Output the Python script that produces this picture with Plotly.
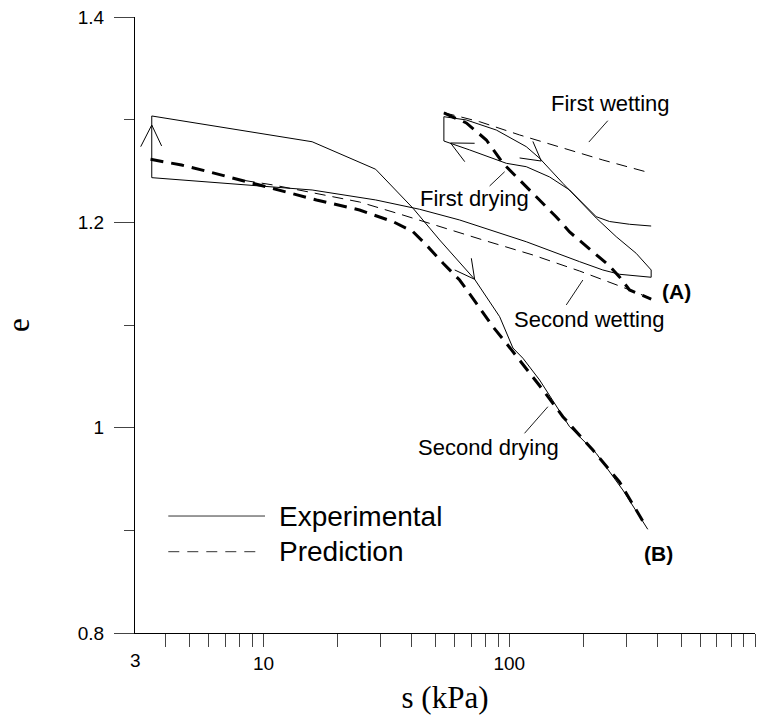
import math
import plotly.graph_objects as go

# ---------------- data (suction s in kPa, void ratio e) ----------------
# Experimental path: first wetting -> swelling -> first drying -> second wetting -> swelling -> second drying
exp_s = [378, 308.6, 255.9, 225.9, 176.0, 145.9, 117.3, 97.3, 69.0, 54.2,
         54.2,
         66.9, 88.6, 117.3, 132.9, 165.3, 225.9, 272.5, 328.5, 378, 378,
         281.0, 240.3, 193.2, 117.3, 91.4, 62.8, 43.2, 28.6, 15.77, 3.51,
         3.51,
         15.77, 28.6, 40.6, 52.1, 72.3, 91.4, 103.5, 113.7, 132.9, 176.0, 187.3, 225.9, 289.8, 366.2]
exp_e = [1.1964, 1.1981, 1.2008, 1.2055, 1.2315, 1.2442, 1.2542, 1.2575, 1.2705, 1.2792,
         1.3029,
         1.2997, 1.2899, 1.2737, 1.2624, 1.2380, 1.2042, 1.1860, 1.1698, 1.1536, 1.1465,
         1.1494, 1.1536, 1.1617, 1.1811, 1.1893, 1.2023, 1.2127, 1.2218, 1.2315, 1.2435,
         1.3036,
         1.2785, 1.2517, 1.2137, 1.1828, 1.1445, 1.1081, 1.0776, 1.0676, 1.0464, 1.0009, 0.9945, 0.9750, 0.9393, 0.9010]

# Arrowheads on the experimental path: (leg, tip, leg)
arrow_s = [[3.165, 3.51, 3.85], [72.3, 57.7, 65.9], [124.8, 135.0, 110.2], [70.1, 72.3, 60.0]]
arrow_e = [[1.2737, 1.2948, 1.2744], [1.2770, 1.2773, 1.2591], [1.2788, 1.2597, 1.2627], [1.1650, 1.1445, 1.1536]]

# Predictions - drying (thick dashed)
pred_dry1_s = [54.2, 66.9, 80.7, 94.3, 110.2, 128.9, 155.4, 176.0, 199.3, 225.9, 255.9, 281.0, 308.6, 378]
pred_dry1_e = [1.3065, 1.2968, 1.2802, 1.2575, 1.2412, 1.2247, 1.2052, 1.1906, 1.1796, 1.1682, 1.1575, 1.1468, 1.1341, 1.1253]
pred_dry2_s = [3.47, 4.64, 6.05, 9.08, 10.95, 16.43, 24.6, 33.7, 40.6, 46.0, 53.8, 62.8, 73.5, 85.8,
               97.3, 110.2, 137.1, 165.3, 218.9, 281.0, 360.7]
pred_dry2_e = [1.2614, 1.2558, 1.2490, 1.2380, 1.2332, 1.2218, 1.2120, 1.2006, 1.1909, 1.1779, 1.1601, 1.1438, 1.1211, 1.0983,
               1.0822, 1.0659, 1.0367, 1.0107, 0.9782, 0.9471, 0.9035]

# Predictions - wetting (thin dashed)
pred_wet1_s = [54.2, 75.8, 110.2, 160.3, 240.3, 372]
pred_wet1_e = [1.3068, 1.2980, 1.2851, 1.2731, 1.2607, 1.2483]
pred_wet2_s = [378, 281.0, 193.2, 124.8, 78.2, 49.0, 35.8, 24.6, 16.43, 10.95, 7.65]
pred_wet2_e = [1.1258, 1.1380, 1.1526, 1.1682, 1.1828, 1.1984, 1.2081, 1.2198, 1.2283, 1.2364, 1.2422]

# Curve labels and their leader lines
label_text = ["First wetting", "First drying", "Second wetting", "Second drying"]
label_s = [258, 72.3, 212, 82.5]
label_e = [1.3153, 1.2237, 1.1049, 0.9802]
leader_s = [[251.8, 210.8], [83.2, 95.8], [170.6, 199.3], [115.4, 143.6]]
leader_e = [[1.2990, 1.2782], [1.2354, 1.2493], [1.1195, 1.1438], [0.9945, 1.0204]]

end_text = ["(A)", "(B)"]
end_s = [481, 405]
end_e = [1.1331, 0.8779]

# Axis ticks
x_major = [10, 100, 1000]
x_minor = [4, 5, 6, 7, 8, 9, 20, 30, 40, 50, 60, 70, 80, 90, 200, 300, 400, 500, 600, 700, 800, 900]
y_major = [0.8, 1.0, 1.2, 1.4]
y_major_text = ["0.8", "1", "1.2", "1.4"]
y_minor = [0.9, 1.1, 1.3]

legend_names = ["Experimental", "Prediction"]

# ---------------- figure ----------------
SANS = "Liberation Sans, Arial, sans-serif"
SERIF = "Liberation Serif, Times New Roman, serif"

fig = go.Figure()


def with_breaks(groups):
    out = []
    for g in groups:
        out.extend(g)
        out.append(None)
    return out


fig.add_trace(go.Scatter(x=exp_s, y=exp_e, mode="lines",
                         line=dict(color="black", width=1), showlegend=False, hoverinfo="skip"))
fig.add_trace(go.Scatter(x=with_breaks(arrow_s), y=with_breaks(arrow_e), mode="lines",
                         line=dict(color="black", width=1), showlegend=False, hoverinfo="skip"))
for xs, ys in [(pred_wet1_s, pred_wet1_e), (pred_wet2_s, pred_wet2_e)]:
    fig.add_trace(go.Scatter(x=xs, y=ys, mode="lines",
                             line=dict(color="black", width=1, dash="11px,7px"),
                             showlegend=False, hoverinfo="skip"))
for xs, ys in [(pred_dry1_s, pred_dry1_e), (pred_dry2_s, pred_dry2_e)]:
    fig.add_trace(go.Scatter(x=xs, y=ys, mode="lines",
                             line=dict(color="black", width=3, dash="13px,8px"),
                             showlegend=False, hoverinfo="skip"))
fig.add_trace(go.Scatter(x=with_breaks(leader_s), y=with_breaks(leader_e), mode="lines",
                         line=dict(color="black", width=0.9), showlegend=False, hoverinfo="skip"))

annotations = []
for t, s, e in zip(label_text, label_s, label_e):
    annotations.append(dict(x=math.log10(s), y=e, xref="x", yref="y", text=t, showarrow=False,
                            font=dict(family=SANS, size=22, color="black")))
for t, s, e in zip(end_text, end_s, end_e):
    annotations.append(dict(x=math.log10(s), y=e, xref="x", yref="y", text="<b>" + t + "</b>",
                            showarrow=False, font=dict(family=SANS, size=21, color="black")))

# "3" label at the axis origin (no tick mark there)
annotations.append(dict(x=math.log10(3), y=0, xref="x", yref="paper", text="3", showarrow=False,
                        yanchor="top", yshift=-15, font=dict(family=SANS, size=19, color="black")))

# manual legend
shapes = [
    dict(type="line", xref="paper", yref="paper", x0=0.0537, x1=0.2097, y0=0.1899, y1=0.1899,
         line=dict(color="#333333", width=1)),
    dict(type="line", xref="paper", yref="paper", x0=0.0537, x1=0.2016, y0=0.1320, y1=0.1320,
         line=dict(color="#333333", width=1, dash="11px,8px")),
]
for name, yp in zip(legend_names, [0.1899, 0.1320]):
    annotations.append(dict(x=0.2285, y=yp, xref="paper", yref="paper", text=name, showarrow=False,
                            xanchor="left", yanchor="middle",
                            font=dict(family=SANS, size=28, color="black")))

fig.update_layout(
    width=776, height=715,
    margin=dict(l=135, r=21, t=17, b=82),
    paper_bgcolor="white", plot_bgcolor="white",
    showlegend=False,
    annotations=annotations,
    shapes=shapes,
    xaxis=dict(
        type="log", range=[math.log10(3), 3], automargin=False,
        showline=True, linecolor="black", linewidth=1, mirror=False,
        showgrid=False, zeroline=False,
        ticks="outside", ticklen=13, tickwidth=1, tickcolor="#444444",
        tickmode="array", tickvals=x_major + x_minor,
        ticktext=[str(v) for v in x_major] + ["" for _ in x_minor],
        tickfont=dict(family=SANS, size=19, color="black"),
        title=dict(text="s (kPa)", font=dict(family=SERIF, size=31, color="black"), standoff=18),
    ),
    yaxis=dict(
        range=[0.8, 1.4], automargin=False,
        showline=True, linecolor="black", linewidth=1, mirror=False,
        showgrid=False, zeroline=False,
        ticks="outside", ticklen=20, tickwidth=1, tickcolor="#444444",
        tickmode="array", tickvals=y_major, ticktext=y_major_text,
        ticklabelstandoff=6,
        tickfont=dict(family=SANS, size=19, color="black"),
        minor=dict(tickmode="array", tickvals=y_minor, ticks="outside", ticklen=10,
                   tickwidth=1, tickcolor="#444444", showgrid=False),
        title=dict(text="e", font=dict(family=SERIF, size=31, color="black"), standoff=38),
    ),
)

fig.write_html("out.html")
